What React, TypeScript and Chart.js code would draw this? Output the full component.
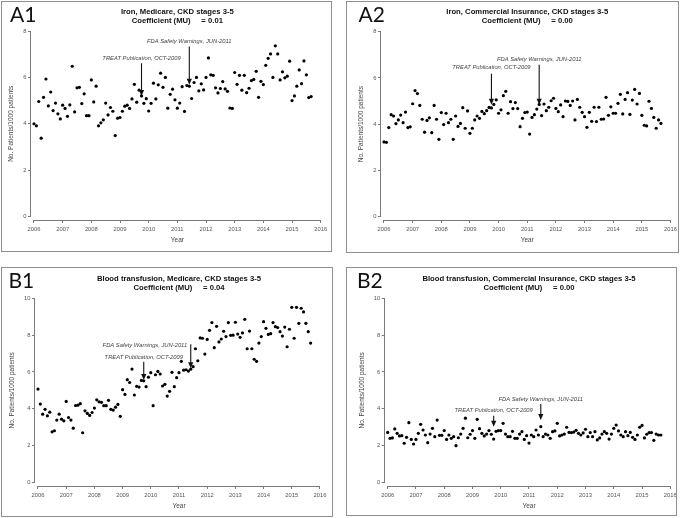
import React, { useEffect, useRef } from "react";
import { Chart, registerables } from "chart.js";

Chart.register(...registerables);

// ---------- data ----------
const START_YEAR = 2006;
const YEAR_TICKS = [2006, 2007, 2008, 2009, 2010, 2011, 2012, 2013, 2014, 2015, 2016];
const Y_TICKS_IRON = [0, 2, 4, 6, 8];
const Y_TICKS_TRANSFUSION = [0, 2, 4, 6, 8, 10];

// monthly rates, Jan 2006 .. Sep 2015 (No. patients / 1000 patients)
const IRON_MEDICARE = [
  4.0, 3.91, 4.96, 3.38, 5.14, 5.93, 4.77, 5.37, 4.57, 4.89, 4.43, 4.21,
  4.8, 4.66, 4.32, 4.81, 6.48, 4.51, 5.55, 5.57, 4.87, 5.29, 4.35, 4.35,
  5.89, 4.94, 5.62, 3.91, 4.04, 4.17, 4.89, 4.38, 4.7, 4.54, 3.49, 4.24,
  4.27, 4.54, 4.76, 4.8, 4.66, 5.07, 5.7, 4.93, 5.45, 5.2, 4.88, 5.08,
  4.55, 4.88, 5.75, 5.07, 5.68, 6.18, 5.57, 6.0, 4.67, 5.27, 5.49, 5.03,
  4.67, 4.89, 5.6, 4.53, 5.65, 5.62, 5.09, 5.78, 6.0, 5.42, 5.72, 5.46,
  6.0, 6.84, 6.11, 6.09, 5.55, 5.33, 5.52, 5.82, 5.5, 5.4, 4.68, 4.66,
  6.21, 5.7, 6.09, 5.45, 6.09, 5.34, 5.53, 5.86, 5.91, 6.26, 5.14, 5.83,
  5.69, 6.52, 6.82, 7.01, 6.0, 7.36, 7.01, 5.89, 6.24, 5.98, 6.05, 6.7,
  5.0, 5.2, 5.62, 6.32, 5.73, 6.71, 6.11, 5.13, 5.17,
];

const IRON_COMMERCIAL = [
  3.23, 3.21, 3.85, 4.41, 4.35, 4.02, 4.18, 4.39, 4.06, 4.52, 3.85, 3.88,
  4.88, 5.45, 5.32, 4.81, 4.21, 3.65, 4.16, 4.27, 3.63, 4.81, 4.21, 3.34,
  4.5, 3.98, 4.47, 4.06, 4.21, 3.34, 4.35, 3.9, 4.03, 4.71, 3.82, 4.57,
  3.6, 3.82, 4.18, 4.35, 4.25, 4.55, 4.45, 4.58, 4.72, 4.7, 4.85, 5.05,
  4.47, 4.62, 5.23, 5.42, 4.47, 4.97, 4.67, 4.93, 4.67, 3.89, 4.25, 4.5,
  4.52, 3.57, 4.29, 4.41, 4.65, 4.85, 4.37, 4.87, 4.58, 4.73, 5.01, 5.12,
  4.68, 4.54, 4.83, 4.32, 5.0, 4.98, 4.81, 5.0, 4.18, 5.07, 4.73, 4.51,
  4.32, 3.86, 4.51, 4.12, 4.73, 4.11, 4.73, 4.21, 4.22, 5.16, 4.38, 4.75,
  4.47, 4.47, 4.9, 5.29, 4.44, 5.07, 5.36, 4.42, 5.04, 5.5, 4.87, 5.33,
  4.38, 3.95, 3.92, 4.99, 4.68, 4.29, 3.82, 4.18, 4.03,
];

const TRANSFUSION_MEDICARE = [
  5.07, 4.26, 3.71, 3.97, 3.62, 3.82, 2.75, 2.81, 3.39, 3.71, 3.44, 3.35,
  4.4, 3.53, 3.39, 2.95, 4.18, 4.2, 4.28, 2.7, 3.89, 3.75, 3.64, 3.8,
  4.04, 4.49, 4.38, 4.35, 4.17, 4.17, 4.46, 3.97, 3.93, 4.09, 4.24, 3.59,
  5.04, 4.78, 5.58, 5.43, 6.16, 4.75, 5.22, 5.18, 5.54, 5.52, 5.2, 5.72,
  5.96, 4.17, 5.85, 6.03, 5.89, 5.24, 5.33, 4.69, 4.95, 5.98, 5.2, 5.69,
  5.96, 6.58, 6.1, 6.12, 6.05, 6.15, 6.29, 7.26, 6.61, 7.85, 7.83, 6.97,
  7.77, 8.26, 8.68, 7.32, 8.48, 7.63, 7.79, 8.21, 7.92, 8.68, 7.99, 8.0,
  8.7, 8.06, 7.88, 8.12, 8.86, 7.26, 8.22, 7.26, 6.69, 6.58, 7.57, 7.92,
  8.73, 8.37, 8.04, 8.08, 8.68, 8.46, 8.41, 8.19, 7.95, 8.44, 7.37, 8.32,
  9.51, 7.83, 9.51, 8.64, 9.46, 9.26, 8.64, 8.19, 7.57,
];

const TRANSFUSION_COMMERCIAL = [
  2.72, 2.4, 2.42, 2.91, 2.67, 2.53, 2.54, 2.13, 2.45, 3.25, 2.34, 2.09,
  2.34, 2.67, 3.16, 2.85, 2.58, 2.16, 2.63, 2.94, 2.49, 3.39, 2.56, 2.56,
  2.82, 2.34, 2.58, 2.4, 2.49, 2.0, 2.43, 2.63, 2.94, 3.49, 2.43, 2.62,
  2.82, 2.4, 3.43, 2.92, 2.67, 2.53, 2.63, 2.82, 2.62, 2.36, 2.78, 2.82,
  2.82, 3.21, 2.63, 2.49, 2.49, 2.78, 2.4, 2.4, 2.63, 2.76, 2.34, 2.54,
  2.14, 2.58, 2.49, 2.85, 2.58, 3.03, 2.49, 2.63, 2.58, 2.4, 2.76, 2.8,
  3.21, 2.53, 2.58, 2.63, 3.0, 2.72, 2.71, 2.74, 2.83, 2.67, 2.58, 2.69,
  2.89, 2.49, 2.71, 2.49, 2.76, 2.31, 2.42, 2.63, 2.76, 2.67, 2.36, 2.63,
  2.94, 3.12, 2.8, 2.58, 2.49, 2.76, 2.54, 2.72, 2.45, 2.34, 2.58, 3.0,
  3.1, 2.42, 2.62, 2.71, 2.71, 2.29, 2.63, 2.58, 2.58,
];

const TREAT_LABEL = "TREAT Publication, OCT-2009";
const FDA_LABEL = "FDA Safety Warnings, JUN-2011";
const TREAT_DATE = 2009 + 9 / 12;
const FDA_DATE = 2011 + 5 / 12;

// ---------- styling / layout ----------
const FONT = '"Liberation Sans", Arial, sans-serif';
const TICK_COLOR = "#555";
const AXIS_COLOR = "#7a7a7a";
const GAP_L = 3, GAP_R = 2, GAP_T = 1, GAP_B = 3.5;

type Ann = { label: string; date: number; textX?: number; textY: number; startY: number; tipY: number };
type PanelCfg = {
  tag: string; title: string; coef: string; values: number[]; yTicks: number[];
  box: { x: number; y: number; w: number; h: number };
  area: { L: number; R: number; T: number; B: number };
  labelX: number; anns: Ann[];
};

const PANELS: PanelCfg[] = [
  {
    tag: "A1", title: "Iron, Medicare, CKD stages 3-5", coef: "0.01", values: IRON_MEDICARE, yTicks: Y_TICKS_IRON,
    box: { x: 1, y: 1, w: 331, h: 251 }, area: { L: 31, R: 322.7, T: 30, B: 220 }, labelX: 9,
    anns: [
      { label: TREAT_LABEL, date: TREAT_DATE, textY: 6.84, startY: 6.61, tipY: 5.2 },
      { label: FDA_LABEL, date: FDA_DATE, textY: 7.57, startY: 7.33, tipY: 5.68 },
    ],
  },
  {
    tag: "A2", title: "Iron, Commercial Insurance, CKD stages 3-5", coef: "0.00", values: IRON_COMMERCIAL, yTicks: Y_TICKS_IRON,
    box: { x: 346, y: 1, w: 333, h: 252 }, area: { L: 381, R: 672.5, T: 30.7, B: 220 }, labelX: 12.5,
    anns: [
      { label: TREAT_LABEL, date: TREAT_DATE, textY: 6.45, startY: 6.18, tipY: 4.84 },
      { label: FDA_LABEL, date: FDA_DATE, textY: 6.81, startY: 6.57, tipY: 4.84 },
    ],
  },
  {
    tag: "B1", title: "Blood transfusion, Medicare, CKD stages 3-5", coef: "0.04", values: TRANSFUSION_MEDICARE, yTicks: Y_TICKS_TRANSFUSION,
    box: { x: 1, y: 267, w: 332, h: 250 }, area: { L: 35, R: 322, T: 297.3, B: 486 }, labelX: 7.5,
    anns: [
      { label: TREAT_LABEL, date: TREAT_DATE, textY: 6.77, startY: 6.55, tipY: 5.56 },
      { label: FDA_LABEL, date: FDA_DATE, textX: 2009.79, textY: 7.46, startY: 7.5, tipY: 6.2 },
    ],
  },
  {
    tag: "B2", title: "Blood transfusion, Commercial Insurance, CKD stages 3-5", coef: "0.00", values: TRANSFUSION_COMMERCIAL, yTicks: Y_TICKS_TRANSFUSION,
    box: { x: 346, y: 267, w: 331, h: 249 }, area: { L: 384.7, R: 672.3, T: 297.3, B: 486 }, labelX: 11,
    anns: [
      { label: TREAT_LABEL, date: TREAT_DATE, textY: 3.89, startY: 3.62, tipY: 3.02 },
      { label: FDA_LABEL, date: FDA_DATE, textY: 4.51, startY: 4.26, tipY: 3.39 },
    ],
  },
];

function makeDecor(cfg: PanelCfg) {
  return {
    id: "decor",
    afterDraw(chart: any) {
      const ctx = chart.ctx;
      const xs = chart.scales.x;
      const ys = chart.scales.y;
      const ca = chart.chartArea;
      const x0 = xs.getPixelForValue(YEAR_TICKS[0]);
      const x1 = xs.getPixelForValue(YEAR_TICKS[YEAR_TICKS.length - 1]);
      const yTop = ys.getPixelForValue(cfg.yTicks[cfg.yTicks.length - 1]);
      const yBot = ys.getPixelForValue(0);
      ctx.save();
      // axis lines
      ctx.strokeStyle = AXIS_COLOR;
      ctx.lineWidth = 1;
      ctx.beginPath();
      const ax = Math.round(ca.left) - 0.5;
      ctx.moveTo(ax, yTop);
      ctx.lineTo(ax, yBot);
      const ay = Math.round(ca.bottom) + 0.5;
      ctx.moveTo(x0, ay);
      ctx.lineTo(x1, ay);
      ctx.stroke();

      // titles
      const cx = (x0 + x1) / 2;
      ctx.fillStyle = "#111";
      ctx.textAlign = "center";
      ctx.textBaseline = "middle";
      ctx.font = `bold 7.7px ${FONT}`;
      ctx.fillText(cfg.title, cx, ca.top - 18.5);
      ctx.fillText(`Coefficient (MU)     = ${cfg.coef}`, cx, ca.top - 9.5);

      // axis titles
      ctx.fillStyle = "#444";
      ctx.font = `6.5px ${FONT}`;
      ctx.fillText("Year", cx, ca.bottom + 20.3);
      ctx.font = `5.8px ${FONT}`;
      let maxW = 0;
      cfg.yTicks.forEach((t) => { maxW = Math.max(maxW, ctx.measureText(String(t)).width); });
      ctx.font = `6.5px ${FONT}`;
      ctx.save();
      ctx.translate(ca.left - maxW - 16.3, (yTop + yBot) / 2);
      ctx.rotate(-Math.PI / 2);
      ctx.fillText("No. Patients/1000 patients", 0, 0);
      ctx.restore();

      // annotations
      cfg.anns.forEach((a) => {
        const px = xs.getPixelForValue(a.date);
        const tx = xs.getPixelForValue(a.textX ?? a.date);
        const ty = ys.getPixelForValue(a.textY);
        ctx.font = `italic 5.8px ${FONT}`;
        ctx.fillStyle = "#444";
        ctx.textAlign = "center";
        ctx.textBaseline = "middle";
        ctx.fillText(a.label, tx, ty);
        const s = ys.getPixelForValue(a.startY);
        const tip = ys.getPixelForValue(a.tipY);
        const head = 6;
        ctx.strokeStyle = "#111";
        ctx.fillStyle = "#111";
        ctx.lineWidth = 1.1;
        ctx.beginPath();
        ctx.moveTo(px, s);
        ctx.lineTo(px, tip - head + 1);
        ctx.stroke();
        ctx.beginPath();
        ctx.moveTo(px - 2.6, tip - head);
        ctx.lineTo(px + 2.6, tip - head);
        ctx.lineTo(px, tip);
        ctx.closePath();
        ctx.fill();
      });

      // panel tag
      ctx.fillStyle = "#111";
      ctx.font = `21px Lato, "Liberation Sans", sans-serif`;
      ctx.textAlign = "left";
      ctx.textBaseline = "alphabetic";
      ctx.fillText(cfg.tag, cfg.labelX, 21.3);
      ctx.restore();
    },
  };
}

function Panel({ cfg }: { cfg: PanelCfg }) {
  const ref = useRef<HTMLCanvasElement>(null);
  useEffect(() => {
    const { box, area } = cfg;
    const yMaxTick = cfg.yTicks[cfg.yTicks.length - 1];
    const pxYear = (area.R - area.L - GAP_L - GAP_R) / 10;
    const xmin = 2006 - GAP_L / pxYear;
    const xmax = 2016 + GAP_R / pxYear;
    const pxUnit = (area.B - area.T - GAP_T - GAP_B) / yMaxTick;
    const ymin = -GAP_B / pxUnit;
    const ymax = yMaxTick + GAP_T / pxUnit;
    const data = cfg.values.map((v, i) => ({ x: START_YEAR + i / 12, y: v }));
    const tickFont = { family: FONT, size: 5.8 };
    const grid = { display: true, drawOnChartArea: false, drawTicks: true, tickLength: 3, color: AXIS_COLOR, lineWidth: 1 };
    const chart = new Chart(ref.current as HTMLCanvasElement, {
      type: "scatter",
      data: {
        datasets: [{
          data, backgroundColor: "#000", borderColor: "#000", borderWidth: 0,
          pointRadius: 1.6, pointHoverRadius: 1.6,
        }],
      },
      options: {
        animation: false,
        responsive: false,
        events: [],
        layout: { padding: { left: 0, top: area.T - box.y, right: box.x + box.w - area.R, bottom: 0 } },
        plugins: { legend: { display: false }, tooltip: { enabled: false }, title: { display: false } },
        scales: {
          x: {
            type: "linear", min: xmin, max: xmax,
            afterBuildTicks: (s: any) => { s.ticks = YEAR_TICKS.map((v) => ({ value: v })); },
            afterFit: (s: any) => { s.height = box.y + box.h - area.B; s.paddingLeft = 0; s.paddingRight = 0; },
            grid, border: { display: false },
            ticks: { autoSkip: false, maxRotation: 0, minRotation: 0, padding: 2.5, font: tickFont, color: TICK_COLOR, callback: (v: any) => String(v) },
          },
          y: {
            type: "linear", min: ymin, max: ymax,
            afterBuildTicks: (s: any) => { s.ticks = cfg.yTicks.map((v) => ({ value: v })); },
            afterFit: (s: any) => { s.width = area.L - box.x; s.paddingTop = 0; s.paddingBottom = 0; },
            grid, border: { display: false },
            ticks: { autoSkip: false, padding: 1.5, font: tickFont, color: TICK_COLOR, callback: (v: any) => String(v) },
          },
        },
      },
      plugins: [makeDecor(cfg)],
    } as any);
    return () => chart.destroy();
  }, [cfg]);
  const { box } = cfg;
  return (
    <>
      <canvas
        ref={ref}
        width={box.w}
        height={box.h}
        style={{ position: "absolute", left: box.x, top: box.y, width: box.w, height: box.h }}
      />
      <div
        style={{
          position: "absolute", left: box.x, top: box.y, width: box.w, height: box.h,
          border: "1.5px solid #8e8e8e", boxSizing: "border-box", pointerEvents: "none",
        }}
      />
    </>
  );
}

export default function App() {
  return (
    <div style={{ position: "absolute", left: 0, top: 0, width: 685, height: 518, background: "#fff", overflow: "hidden" }}>
      {PANELS.map((p) => (
        <Panel key={p.tag} cfg={p} />
      ))}
    </div>
  );
}
